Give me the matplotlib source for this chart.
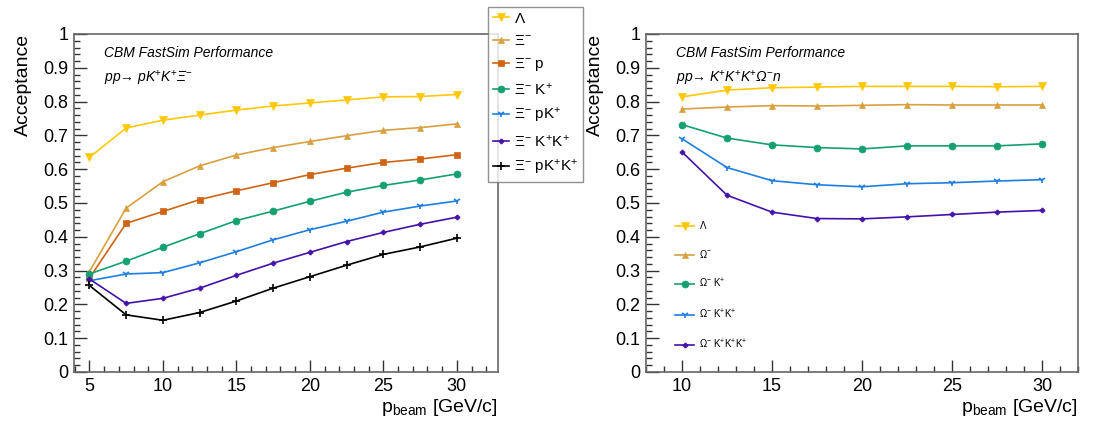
import matplotlib
matplotlib.use('Agg')
import matplotlib.pyplot as plt
from matplotlib.ticker import MultipleLocator, FormatStrFormatter

plt.rcParams['font.family'] = ['Liberation Sans', 'DejaVu Sans']
plt.rcParams['mathtext.fontset'] = 'custom'
plt.rcParams['mathtext.rm'] = 'Liberation Sans'
plt.rcParams['mathtext.it'] = 'Liberation Sans:italic'
plt.rcParams['mathtext.bf'] = 'Liberation Sans:bold'

# pp -> p K+ K+ Xi-
p_left = [5, 7.5, 10, 12.5, 15, 17.5, 20, 22.5, 25, 27.5, 30]
lam_left = [0.635, 0.722, 0.745, 0.760, 0.775, 0.787, 0.796, 0.805, 0.814, 0.815, 0.821]
xi = [0.297, 0.485, 0.563, 0.610, 0.642, 0.664, 0.682, 0.699, 0.715, 0.723, 0.734]
xi_p = [0.278, 0.440, 0.475, 0.510, 0.536, 0.560, 0.584, 0.603, 0.620, 0.630, 0.643]
xi_k = [0.290, 0.328, 0.369, 0.409, 0.448, 0.476, 0.505, 0.532, 0.552, 0.568, 0.586]
xi_pk = [0.270, 0.290, 0.294, 0.323, 0.356, 0.391, 0.421, 0.446, 0.473, 0.491, 0.506]
xi_kk = [0.275, 0.203, 0.218, 0.248, 0.286, 0.322, 0.354, 0.386, 0.413, 0.437, 0.458]
xi_pkk = [0.256, 0.169, 0.153, 0.176, 0.210, 0.248, 0.282, 0.316, 0.348, 0.370, 0.396]

# pp -> K+ K+ K+ Omega- n
p_right = [10, 12.5, 15, 17.5, 20, 22.5, 25, 27.5, 30]
lam_right = [0.814, 0.834, 0.841, 0.843, 0.845, 0.845, 0.845, 0.844, 0.845]
om = [0.778, 0.784, 0.788, 0.787, 0.789, 0.791, 0.790, 0.790, 0.790]
om_k = [0.732, 0.692, 0.672, 0.664, 0.660, 0.669, 0.669, 0.669, 0.675]
om_kk = [0.690, 0.605, 0.566, 0.554, 0.548, 0.557, 0.560, 0.565, 0.569]
om_kkk = [0.651, 0.523, 0.473, 0.454, 0.453, 0.459, 0.466, 0.473, 0.478]

c_yellow = '#ffc80a'
c_tan = '#d9a040'
c_orange = '#cf6414'
c_green = '#15a070'
c_blue = '#1f7fe0'
c_purple = '#4412a8'
c_black = '#000000'

left_series = [
    (lam_left, r'$\Lambda$', c_yellow, 'v', 5.5),
    (xi, r'$\Xi^{-}$', c_tan, '^', 5),
    (xi_p, r'$\Xi^{-}$ p', c_orange, 's', 5),
    (xi_k, r'$\Xi^{-}$ K$^{+}$', c_green, 'o', 5),
    (xi_pk, r'$\Xi^{-}$ pK$^{+}$', c_blue, '1', 5),
    (xi_kk, r'$\Xi^{-}$ K$^{+}$K$^{+}$', c_purple, 'P', 3.5),
    (xi_pkk, r'$\Xi^{-}$ pK$^{+}$K$^{+}$', c_black, '+', 6),
]

right_series = [
    (lam_right, r'$\Lambda$', c_yellow, 'v', 5.5),
    (om, r'$\Omega^{-}$', c_tan, '^', 5),
    (om_k, r'$\Omega^{-}$ K$^{+}$', c_green, 'o', 5),
    (om_kk, r'$\Omega^{-}$ K$^{+}$K$^{+}$', c_blue, '1', 5),
    (om_kkk, r'$\Omega^{-}$ K$^{+}$K$^{+}$K$^{+}$', c_purple, 'P', 3.5),
]

fig = plt.figure(figsize=(11, 4.21), dpi=100)
ax1 = fig.add_axes([74 / 1100, 49 / 421, 424 / 1100, 338 / 421])
ax2 = fig.add_axes([646 / 1100, 49 / 421, 432 / 1100, 338 / 421])


def style_axes(ax, xlim):
    ax.set_xlim(*xlim)
    ax.set_ylim(0, 1)
    ax.xaxis.set_major_locator(MultipleLocator(5))
    ax.xaxis.set_minor_locator(MultipleLocator(1))
    ax.yaxis.set_major_locator(MultipleLocator(0.1))
    ax.yaxis.set_minor_locator(MultipleLocator(0.02))
    ax.yaxis.set_major_formatter(FormatStrFormatter('%g'))
    ax.tick_params(which='both', direction='in', top=False, right=False,
                   labelsize=13, color='#333333', width=1.0, pad=4)
    ax.tick_params(which='major', length=9)
    ax.tick_params(which='minor', length=4.5)
    for s in ax.spines.values():
        s.set_color('#666666')
        s.set_linewidth(1.2)
    ax.set_ylabel('Acceptance', fontsize=14, loc='top', labelpad=8)
    ax.set_xlabel(r'p$_{\mathrm{beam}}$ [GeV/c]', fontsize=14, loc='right', labelpad=2)


def draw(ax, x, series):
    for y, lab, col, mk, ms in series:
        ax.plot(x, y, color=col, marker=mk, markersize=ms, lw=1.2,
                markeredgewidth=1.2 if mk in ('1', '+') else 0.5, label=lab)


draw(ax1, p_left, left_series)
draw(ax2, p_right, right_series)
style_axes(ax1, (3.95, 32.8))
style_axes(ax2, (8, 32))

for ax, reaction in [(ax1, r'pp→ pK$^{+}$K$^{+}$Ξ$^{-}$'),
                     (ax2, r'pp→ K$^{+}$K$^{+}$K$^{+}$Ω$^{-}$n')]:
    ax.text(0.07, 0.965, 'CBM FastSim Performance', transform=ax.transAxes,
            fontsize=10, style='italic', va='top')
    ax.text(0.07, 0.895, reaction, transform=ax.transAxes, fontsize=10,
            style='italic', va='top')

h1, l1 = ax1.get_legend_handles_labels()
leg1 = fig.legend(h1, l1, loc='upper left', bbox_to_anchor=(488 / 1100, 1 - 7 / 421),
                  fontsize=11, frameon=True, fancybox=False, edgecolor='#777777',
                  handlelength=1.1, handletextpad=0.3, labelspacing=0.55,
                  borderpad=0.3, borderaxespad=0)
leg1.set_zorder(10)

h2, l2 = ax2.get_legend_handles_labels()
fig.legend(h2, l2, loc='upper left', bbox_to_anchor=(675 / 1100, 1 - 219 / 421),
           fontsize=7, frameon=False, handlelength=2.0, handletextpad=0.5,
           labelspacing=1.75, borderpad=0, borderaxespad=0)

plt.savefig('out.png', dpi=100)
